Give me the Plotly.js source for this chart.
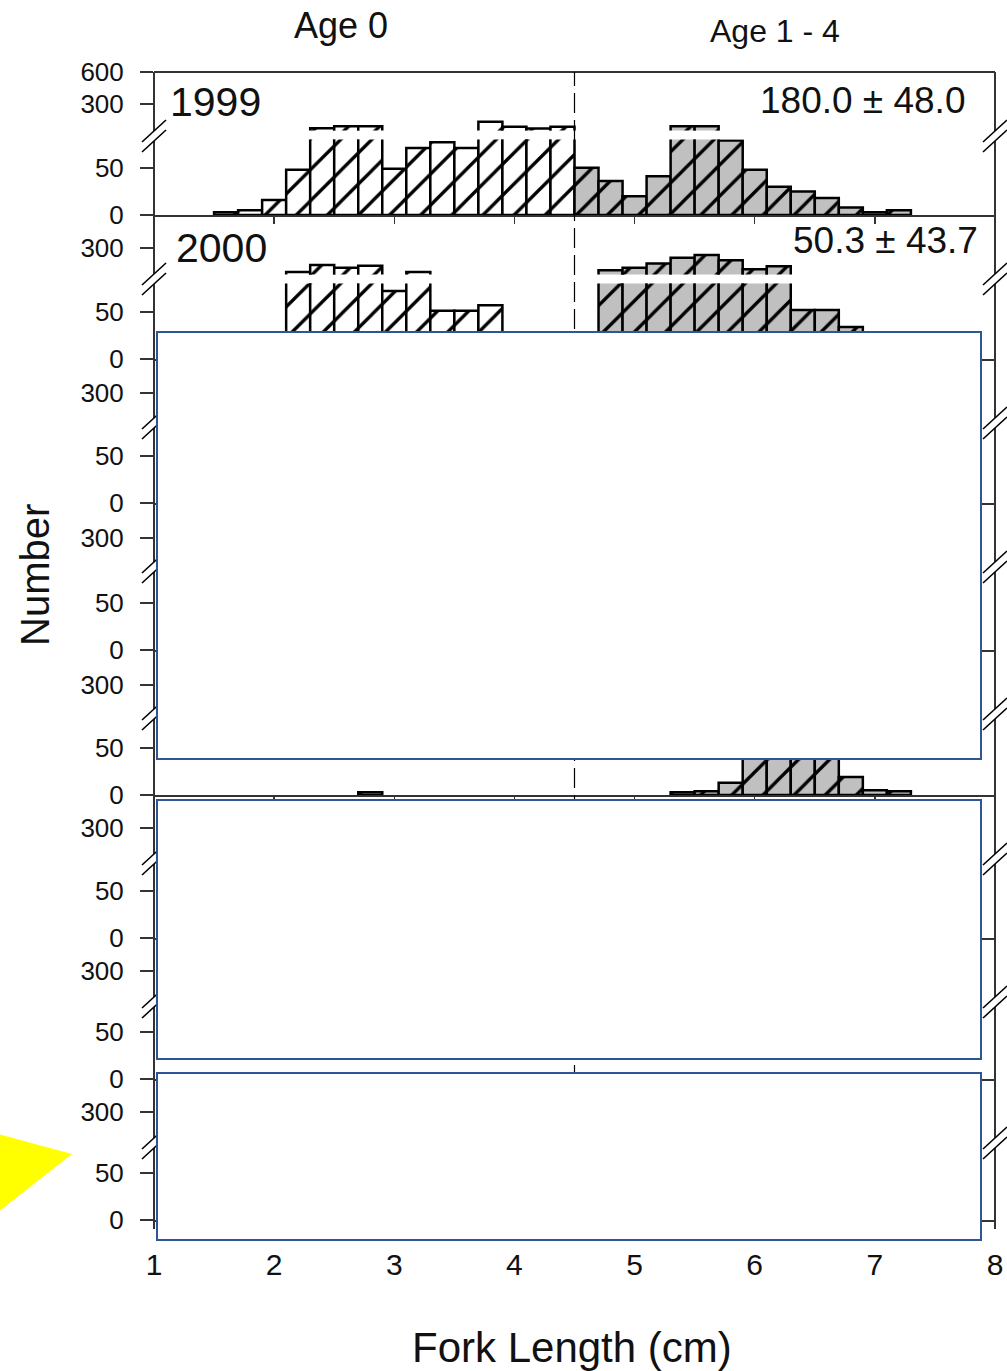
<!DOCTYPE html>
<html><head><meta charset="utf-8">
<script src="https://cdn.plot.ly/plotly-3.0.1.min.js"></script>
<style>html,body{margin:0;padding:0;background:#fff}#chart{width:1007px;height:1371px}</style>
</head><body><div id="chart"></div>
<script>
// ---------------- data ----------------
const binMidpoints = [1.6,1.8,2.0,2.2,2.4,2.6,2.8,3.0,3.2,3.4,3.6,3.8,4.0,4.2,4.4,4.6,4.8,5.0,5.2,5.4,5.6,5.8,6.0,6.2,6.4,6.6,6.8,7.0,7.2,7.4,7.6,7.8];
const binWidth = 0.2;          // cm
const ageSplit = 4.5;          // cm, Age 0 | Age 1 - 4
const N = null;                // hidden behind the white boxes
const count1999 = [3,5,16,48,178,186,186,49,71,77,71,205,184,177,184,50,36,20,41,186,186,79,48,30,25,18,8,3,5,0,0,0];
const count2000 = [N,N,N,179,208,196,205,72,179,51,51,57,N,N,N,N,186,196,215,243,258,231,190,203,52,52,34,N,N,N,N,N];
const count2001 = [N,N,N,N,N,N,N,N,N,N,N,N,N,N,N,N,N,N,N,N,N,N,N,N,N,N,N,N,N,N,N,N];
const count2002 = [N,N,N,N,N,N,N,N,N,N,N,N,N,N,N,N,N,N,N,N,N,N,N,N,N,N,N,N,N,N,N,N];
const count2003 = [0,0,0,0,0,0,3,0,0,0,0,0,0,0,0,0,0,0,0,3,4,13,62,78,74,48,19,5,4,0,0,0];
const count2004 = [N,N,N,N,N,N,N,N,N,N,N,N,N,N,N,N,N,N,N,N,N,N,N,N,N,N,N,N,N,N,N,N];
const count2005 = [N,N,N,N,N,N,N,N,N,N,N,N,N,N,N,N,N,N,N,N,N,N,N,N,N,N,N,N,N,N,N,N];
const count2006 = [N,N,N,N,N,N,N,N,N,N,N,N,N,N,N,N,N,N,N,N,N,N,N,N,N,N,N,N,N,N,N,N];
const yearLabels = ['1999','2000'];
const meanLabels = ['180.0 \u00b1 48.0','50.3 \u00b1 43.7'];
const ageLabels = ['Age 0','Age 1 - 4'];
const xTickVals = [1,2,3,4,5,6,7,8];
const lowerTickVals = [0,50];
const upperTickValsFirst = [300,600];
const upperTickVals = [300];
const xTitle = 'Fork Length (cm)';
const yTitle = 'Number';

const panels = [count1999,count2000,count2001,count2002,count2003,count2004,count2005,count2006];

// ---------------- layout geometry (pixels) ----------------
const W=1007,H=1371,L=154,R=995,T=72,B=1220;
const panelTop=[72,215,359,503,650,795,938,1079];
const panelZero=[215,359,503,650,795,938,1079,1220];
const tick300Px=[104,248,393,538,685,828,971,1112];
const lowerH=75.5, gapH=9, pxPerDecade=106.3, lowerMax=80;
const px=x=>(x-L)/(R-L);
const py=y=>(B-y)/(B-T);
const s=n=>n===1?'':String(n);
const FONT='"Liberation Sans", Arial, Helvetica, sans-serif';
const INK='#111', AXC='#333', GRAY='#c0c0c0', BOXC='#2f5597';

const layout={width:W,height:H,margin:{l:L,r:W-R,t:T,b:H-B,pad:0},
  paper_bgcolor:'#fff',plot_bgcolor:'rgba(0,0,0,0)',showlegend:false,
  bargap:0,barmode:'overlay',font:{family:FONT,color:INK},
  shapes:[],annotations:[]};
const data=[];

function segTrace(counts,isAge0,n){
  const xs=[],ys=[];
  binMidpoints.forEach((m,i)=>{
    if((m<ageSplit)===isAge0 && counts[i]!=null && counts[i]>0){xs.push(m);ys.push(counts[i]);}
  });
  const fill=isAge0?'#ffffff':GRAY;
  return {type:'bar',x:xs,y:ys,width:binWidth,xaxis:'x'+s(n),yaxis:'y'+s(n),
    marker:{color:fill,line:{color:'#000',width:2.5},
      pattern:{shape:'/',size:22,solidity:0.15,fgcolor:'#000',bgcolor:fill,fillmode:'replace'}},
    hoverinfo:'skip'};
}

panels.forEach((counts,k)=>{
  const nL=2*k+1,nU=2*k+2;
  const top=panelTop[k],zero=panelZero[k];
  const lowerTop=zero-lowerH, upperBottom=lowerTop-gapH;
  const topLog=Math.log10(300)+(tick300Px[k]-top)/pxPerDecade+0.001;
  const botLog=topLog-(upperBottom-top)/pxPerDecade;
  layout['xaxis'+s(nL)]={domain:[0,1],range:[1,8],anchor:'y'+s(nL),showline:true,linecolor:AXC,linewidth:2,
    ticks:'outside',ticklen:7,tickwidth:1.5,tickcolor:AXC,tickmode:'array',tickvals:xTickVals,
    showticklabels:k===7,tickfont:{size:30,color:INK},ticklabelstandoff:10,showgrid:false,zeroline:false,fixedrange:true};
  layout['xaxis'+s(nU)]={domain:[0,1],range:[1,8],anchor:'y'+s(nU),visible:false,fixedrange:true};
  layout['yaxis'+s(nL)]={domain:[py(zero),py(lowerTop)],range:[0,lowerMax],anchor:'x'+s(nL),
    tickmode:'array',tickvals:lowerTickVals,ticktext:lowerTickVals.map(String),ticks:'outside',ticklen:13,tickwidth:1.5,tickcolor:AXC,
    tickfont:{size:26,color:INK},ticklabelstandoff:11,showline:false,showgrid:false,zeroline:false,fixedrange:true};
  const uv=k===0?upperTickValsFirst:upperTickVals;
  layout['yaxis'+s(nU)]={type:'log',domain:[py(upperBottom),py(top)],range:[botLog,topLog],anchor:'x'+s(nU),
    tickmode:'array',tickvals:uv,ticktext:uv.map(String),ticks:'outside',ticklen:13,tickwidth:1.5,tickcolor:AXC,
    tickfont:{size:26,color:INK},ticklabelstandoff:11,showline:false,showgrid:false,zeroline:false,fixedrange:true};
  data.push(segTrace(counts,true,nL),segTrace(counts,false,nL),segTrace(counts,true,nU),segTrace(counts,false,nU));
});

// frame lines
const sh=layout.shapes;
sh.push({type:'line',xref:'paper',yref:'paper',x0:0,x1:0,y0:py(1228),y1:1,line:{color:AXC,width:2}});
sh.push({type:'line',xref:'paper',yref:'paper',x0:1,x1:1,y0:py(1228),y1:1,line:{color:AXC,width:2}});
sh.push({type:'line',xref:'paper',yref:'paper',x0:0,x1:1,y0:1,y1:1,line:{color:AXC,width:2}});
// age split dashed line
sh.push({type:'line',xref:'x',yref:'paper',x0:ageSplit,x1:ageSplit,y0:0,y1:1,line:{color:'#000',width:1.2,dash:'20px,7px'}});
// axis breaks
panelTop.forEach((top,k)=>{
  const y1=top+59,y2=top+69;
  [L,R].forEach(xc=>{
    sh.push({type:'path',xref:'paper',yref:'paper',
      path:`M${px(xc-12)},${py(y1+11)} L${px(xc+12)},${py(y1-11)} L${px(xc+12)},${py(y2-11)} L${px(xc-12)},${py(y2+11)} Z`,
      fillcolor:'#fff',line:{width:0}});
    [y1,y2].forEach(yc=>sh.push({type:'line',xref:'paper',yref:'paper',x0:px(xc-12),y0:py(yc+11),x1:px(xc+12),y1:py(yc-11),line:{color:'#000',width:1.6}}));
  });
});
// white cover boxes
[[157,332,981,759],[157,800,981,1059],[157,1073,981,1240]].forEach(b=>{
  sh.push({type:'rect',xref:'paper',yref:'paper',x0:px(b[0]),x1:px(b[2]),y0:py(b[3]),y1:py(b[1]),
    fillcolor:'#fff',line:{color:BOXC,width:2}});
});
// yellow pointer
sh.push({type:'path',xref:'paper',yref:'paper',
  path:`M${px(-2)},${py(1134)} L${px(72)},${py(1154)} L${px(-2)},${py(1212)} Z`,fillcolor:'#ffff00',line:{width:0}});

// text
const an=layout.annotations;
const A=(t,x,y,size,xa,extra)=>an.push(Object.assign({text:t,xref:'paper',yref:'paper',x:px(x),y:py(y),xanchor:xa||'center',yanchor:'middle',showarrow:false,font:{family:FONT,size:size,color:INK}},extra||{}));
A(yearLabels[0],168,102,41,'left');
A(yearLabels[1],174,248,41,'left');
A(meanLabels[0],967,101,37,'right');
A(meanLabels[1],980,241,37,'right');
A(ageLabels[0],341,25,36);
A(ageLabels[1],775,31,32);
A(yTitle,35,575,40,'center',{textangle:-90});
A(xTitle,572,1347,42);

Plotly.newPlot('chart',data,layout,{staticPlot:true,displayModeBar:false});
</script></body></html>
